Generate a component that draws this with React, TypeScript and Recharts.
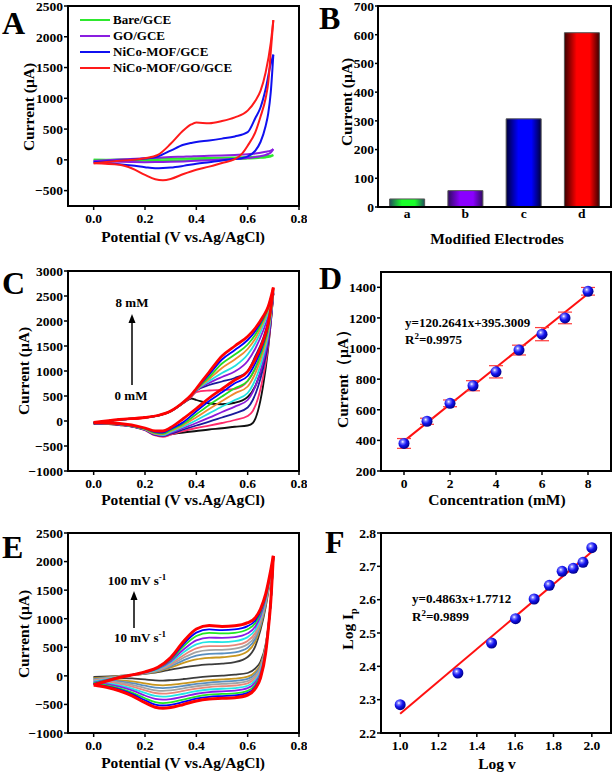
import React from 'react';
import {
  LineChart, Line, XAxis, YAxis, BarChart, Bar, Cell,
  ComposedChart, Scatter, ErrorBar,
} from 'recharts';

const SERIF = '"Liberation Serif", "Times New Roman", serif';
const TICK = { fill: '#000', fontSize: 13.5, fontWeight: 700, fontFamily: SERIF };
const TICK_LINE = { stroke: '#000', strokeWidth: 1.5 };

// ---------- A: CVs of the four electrodes ----------
const potFwdA = [0, 0.1, 0.2, 0.25, 0.3, 0.35, 0.38, 0.4, 0.45, 0.5, 0.55, 0.6, 0.63, 0.65, 0.67, 0.69, 0.7];
const potRevA = [0.7, 0.69, 0.68, 0.67, 0.65, 0.63, 0.6, 0.58, 0.55, 0.5, 0.45, 0.4, 0.35, 0.3, 0.27, 0.24, 0.2, 0.15, 0.1, 0];
const bareFwd = [0, 6, 12, 15, 18, 22, 24, 26, 30, 34, 38, 45, 50, 55, 60, 68, 75];
const bareRev = [75, 55, 45, 40, 32, 26, 20, 16, 12, 6, 0, -4, -8, -12, -14, -15, -16, -14, -8, 0];
const goFwd = [-20, 5, 25, 35, 45, 52, 56, 60, 65, 72, 80, 90, 105, 115, 130, 150, 175];
const goRev = [175, 120, 95, 80, 60, 45, 30, 22, 15, 5, -5, -15, -25, -32, -35, -37, -38, -36, -32, -20];
const mofFwd = [-40, -10, 20, 55, 150, 245, 275, 290, 315, 345, 380, 450, 680, 850, 1150, 1560, 1710];
const mofRev = [1710, 1100, 750, 550, 290, 150, 55, 30, 12, -10, -38, -65, -98, -125, -133, -136, -120, -92, -70, -40];
const mofGoFwd = [-55, -15, 25, 80, 260, 480, 575, 605, 595, 630, 690, 800, 960, 1120, 1420, 1900, 2270];
const mofGoRev = [2270, 1750, 1250, 1000, 700, 450, 230, 110, 10, -50, -110, -160, -230, -310, -330, -315, -245, -140, -80, -55];
const legendA = ['Bare/GCE', 'GO/GCE', 'NiCo-MOF/GCE', 'NiCo-MOF/GO/GCE'];
const colorsA = ['#2ee82e', '#8a1ee0', '#1010f0', '#ff1a1a'];

// ---------- B: peak currents ----------
const electrodesB = ['a', 'b', 'c', 'd'];
const currentB = [28, 57, 307, 607];
const barEdgeB = ['#1f4d5c', '#2e0b5e', '#00003c', '#3c0000'];
const barMidB = ['#1aff2a', '#8a00ff', '#0000ff', '#ff0000'];

// ---------- C: CVs with concentration 0-8 mM ----------
const potFwdC = [0, 0.1, 0.2, 0.25, 0.3, 0.35, 0.38, 0.4, 0.45, 0.5, 0.55, 0.6, 0.63, 0.66, 0.68, 0.7];
const potRevC = [0.7, 0.69, 0.68, 0.66, 0.64, 0.62, 0.6, 0.55, 0.5, 0.45, 0.4, 0.35, 0.3, 0.27, 0.24, 0.2, 0.1, 0];
const fwdC = [
  [-50, 25, 65, 105, 190, 360, 450, 420, 350, 335, 365, 480, 700, 1150, 1700, 2540],
  [-48, 26, 66, 106, 192, 365, 480, 580, 610, 620, 640, 800, 1050, 1450, 1850, 2550],
  [-45, 27, 67, 107, 194, 368, 500, 610, 720, 790, 860, 1000, 1300, 1650, 2000, 2560],
  [-42, 27, 67, 107, 195, 370, 505, 615, 760, 880, 990, 1200, 1450, 1800, 2100, 2570],
  [-40, 28, 68, 108, 196, 372, 508, 620, 800, 960, 1100, 1330, 1560, 1900, 2180, 2580],
  [-38, 28, 68, 108, 197, 374, 511, 625, 840, 1060, 1230, 1440, 1650, 1970, 2230, 2600],
  [-36, 29, 69, 109, 198, 376, 514, 630, 880, 1150, 1330, 1530, 1730, 2020, 2260, 2620],
  [-33, 29, 69, 109, 199, 378, 517, 640, 930, 1230, 1420, 1620, 1800, 2060, 2280, 2640],
  [-30, 30, 70, 110, 200, 380, 520, 650, 980, 1300, 1500, 1690, 1860, 2090, 2290, 2670],
];
const revC = [
  [2540, 1950, 1450, 700, 200, -40, -90, -115, -145, -170, -200, -230, -265, -275, -255, -170, -80, -50],
  [2550, 1960, 1500, 880, 450, 200, 100, 20, -40, -93, -140, -200, -275, -315, -290, -185, -75, -48],
  [2560, 1990, 1570, 1050, 680, 420, 270, 153, 70, -13, -90, -170, -255, -300, -280, -180, -70, -45],
  [2570, 2030, 1650, 1180, 830, 580, 420, 287, 180, 67, -40, -140, -240, -290, -270, -175, -68, -42],
  [2580, 2080, 1730, 1290, 960, 720, 560, 420, 290, 153, 15, -110, -220, -280, -260, -170, -65, -40],
  [2600, 2130, 1800, 1390, 1080, 850, 690, 553, 400, 240, 75, -80, -200, -265, -250, -165, -62, -38],
  [2620, 2180, 1860, 1470, 1180, 960, 800, 653, 490, 320, 135, -50, -180, -250, -235, -160, -60, -36],
  [2640, 2220, 1910, 1540, 1270, 1060, 900, 753, 575, 400, 195, -20, -160, -230, -220, -150, -55, -33],
  [2670, 2250, 1950, 1600, 1350, 1150, 990, 820, 640, 460, 250, 50, -130, -200, -200, -140, -50, -30],
];
const colorsC = ['#111111', '#ff2a6a', '#1a1a9a', '#8a1ad8', '#22e0e0', '#f08a30', '#22dd22', '#0000ff', '#ff0000'];

// ---------- D: calibration ----------
const concD = [0, 1, 2, 3, 4, 5, 6, 7, 8];
const currentD = [380, 525, 642, 757, 848, 990, 1094, 1200, 1374];
const errD = [32, 20, 22, 33, 40, 32, 43, 38, 25];
const fitXD = [0, 8];
const fitYD = [395.3, 1357.4];

// ---------- E: CVs at 10-100 mV/s ----------
const potFwdE = [0, 0.1, 0.2, 0.25, 0.3, 0.35, 0.4, 0.45, 0.5, 0.55, 0.6, 0.63, 0.65, 0.67, 0.69, 0.7];
const potRevE = [0.7, 0.69, 0.68, 0.67, 0.65, 0.63, 0.6, 0.55, 0.5, 0.45, 0.4, 0.35, 0.3, 0.27, 0.24, 0.2, 0.15, 0.1, 0.05, 0];
const fwdE = [
  [-20, 0, 35, 65, 110, 150, 180, 200, 215, 240, 330, 520, 800, 1200, 1750, 2050],
  [-44, -5, 41, 79, 146, 227, 289, 316, 326, 348, 432, 605, 863, 1239, 1767, 2058],
  [-58, -8, 44, 88, 167, 272, 353, 384, 391, 411, 492, 655, 900, 1262, 1777, 2064],
  [-72, -11, 48, 96, 188, 317, 417, 452, 456, 475, 552, 705, 937, 1285, 1787, 2069],
  [-86, -14, 51, 105, 209, 362, 481, 520, 521, 538, 612, 755, 974, 1308, 1797, 2074],
  [-101, -17, 55, 114, 232, 411, 551, 594, 592, 608, 678, 810, 1015, 1333, 1808, 2079],
  [-117, -21, 59, 124, 255, 461, 622, 669, 664, 678, 744, 865, 1055, 1359, 1819, 2085],
  [-133, -24, 63, 134, 280, 515, 698, 751, 742, 754, 816, 925, 1100, 1386, 1831, 2091],
  [-146, -27, 67, 142, 299, 555, 756, 812, 800, 812, 870, 970, 1133, 1407, 1840, 2095],
  [-160, -30, 70, 150, 320, 600, 820, 880, 865, 875, 930, 1020, 1170, 1430, 1850, 2100],
];
const revE = [
  [2050, 1300, 850, 550, 250, 130, 50, 20, 5, -10, -30, -55, -75, -82, -78, -62, -45, -35, -25, -20],
  [2058, 1300, 842, 525, 201, 71, -15, -48, -63, -77, -100, -131, -157, -165, -158, -131, -97, -73, -55, -44],
  [2064, 1302, 837, 510, 172, 36, -54, -89, -102, -117, -141, -175, -205, -213, -205, -172, -127, -96, -72, -58],
  [2069, 1302, 832, 495, 143, 0, -92, -129, -142, -156, -182, -220, -253, -262, -253, -213, -158, -118, -90, -72],
  [2074, 1303, 827, 480, 114, -35, -131, -169, -182, -196, -223, -264, -301, -310, -300, -254, -188, -141, -107, -86],
  [2079, 1303, 821, 463, 82, -73, -173, -213, -226, -239, -268, -313, -353, -364, -352, -299, -222, -166, -127, -101],
  [2085, 1304, 816, 447, 50, -112, -216, -257, -270, -283, -313, -362, -406, -417, -404, -344, -255, -190, -146, -117],
  [2091, 1304, 810, 429, 15, -154, -262, -306, -317, -330, -362, -415, -464, -476, -460, -392, -292, -217, -167, -133],
  [2095, 1305, 805, 415, -11, -185, -297, -342, -353, -366, -399, -456, -507, -519, -503, -427, -320, -238, -183, -146],
  [2100, 1305, 800, 400, -40, -220, -335, -382, -393, -405, -440, -500, -555, -568, -550, -470, -350, -260, -200, -160],
];
const colorsE = ['#3c3c3c', '#c8961e', '#5a8fc0', '#a3a3a3', '#e8877a', '#22e6e6', '#8c1ae6', '#22e622', '#0000ff', '#ff0000'];

// ---------- F: log Ip vs log v ----------
const logVF = [1.0, 1.301, 1.477, 1.602, 1.699, 1.778, 1.845, 1.903, 1.954, 2.0];
const logIpF = [2.285, 2.38, 2.47, 2.543, 2.602, 2.643, 2.685, 2.694, 2.712, 2.756];
const fitXF = [1.0, 2.0];
const fitYF = [2.2575, 2.7438];

const potTicks = [0, 0.2, 0.4, 0.6, 0.8];

const pts = (xs: number[], ys: number[]) => xs.map((x, i) => ({ x, y: ys[i] }));
const minus = (v: number) => String(v).replace('-', '\u2212');
const fix1 = (v: number) => v.toFixed(1);

function cvLines(fwd: number[][], rev: number[][], colors: string[], potF: number[], potR: number[], widths: number[]) {
  return fwd.flatMap((f, i) => [
    <Line key={`f${i}`} data={pts(potF, f)} dataKey="y" type="monotone" stroke={colors[i]}
      strokeWidth={widths[i]} dot={false} activeDot={false} isAnimationActive={false} />,
    <Line key={`r${i}`} data={pts(potR, rev[i])} dataKey="y" type="monotone" stroke={colors[i]}
      strokeWidth={widths[i]} dot={false} activeDot={false} isAnimationActive={false} />,
  ]);
}

const Ball = (id: string) => (p: any) => <circle cx={p.cx} cy={p.cy} r={5.5} fill={`url(#${id})`} />;

const BallDef = ({ id }: { id: string }) => (
  <defs>
    <radialGradient id={id} cx="0.38" cy="0.35" r="0.65">
      <stop offset="0" stopColor="#ffffff" />
      <stop offset="0.22" stopColor="#7a7aff" />
      <stop offset="0.55" stopColor="#1414f0" />
      <stop offset="1" stopColor="#00008a" />
    </radialGradient>
  </defs>
);

const Frame = ({ l, t, w, h }: { l: number; t: number; w: number; h: number }) => (
  <div style={{ position: 'absolute', left: l - 1, top: t - 1, width: w + 2, height: h + 2,
    border: '2px solid #000', boxSizing: 'border-box', pointerEvents: 'none' }} />
);

const Title = ({ cx, cy, vertical, children }: any) => (
  <div style={{ position: 'absolute', left: cx, top: cy, whiteSpace: 'nowrap', lineHeight: 1,
    transform: `translate(-50%,-50%)${vertical ? ' rotate(-90deg)' : ''}`,
    fontSize: 15.5, fontWeight: 700, fontFamily: SERIF }}>{children}</div>
);

const Note = ({ left, top, size = 13, center, children }: any) => (
  <div style={{ position: 'absolute', left, top, whiteSpace: 'nowrap', lineHeight: 1,
    transform: center ? 'translateX(-50%)' : undefined,
    fontSize: size, fontWeight: 700, fontFamily: SERIF }}>{children}</div>
);

const Sup = ({ children }: any) => (
  <span style={{ fontSize: 9, position: 'relative', top: -5 }}>{children}</span>
);

const Letter = ({ left, top, children }: any) => (
  <div style={{ position: 'absolute', left, top, fontSize: 32, lineHeight: 1, fontWeight: 700, fontFamily: SERIF }}>{children}</div>
);

const potAxis = (
  <XAxis type="number" dataKey="x" domain={[-0.1, 0.8]} ticks={potTicks} tickFormatter={fix1}
    allowDataOverflow axisLine={false} tickLine={TICK_LINE} tickSize={4} tickMargin={3}
    tick={TICK} height={30} interval={0} />
);

export default function App() {
  const widthsA = [2, 2, 2, 2];
  const widthsC = [1.8, 1.8, 1.8, 1.8, 1.8, 1.8, 1.8, 1.8, 2.8];
  const widthsE = [1.8, 1.8, 1.8, 1.8, 1.8, 1.8, 1.8, 1.8, 1.8, 3];
  const barsB = electrodesB.map((e, i) => ({ name: e, current: currentB[i] }));

  return (
    <div style={{ position: 'absolute', left: 0, top: 0, width: 614, height: 775, background: '#fff',
      overflow: 'hidden', fontFamily: SERIF }}>
      {/* A */}
      <div style={{ position: 'absolute', left: 0, top: 0 }}>
        <LineChart width={307} height={250} margin={{ top: 6, right: 8, bottom: 14, left: 0 }}>
          {potAxis}
          <YAxis type="number" domain={[-750, 2500]} ticks={[-500, 0, 500, 1000, 1500, 2000, 2500]}
            tickFormatter={minus} allowDataOverflow axisLine={false} tickLine={TICK_LINE}
            tickSize={4} tickMargin={1} tick={TICK} width={68} interval={0} />
          {cvLines([bareFwd, goFwd, mofFwd, mofGoFwd], [bareRev, goRev, mofRev, mofGoRev],
            colorsA, potFwdA, potRevA, widthsA)}
        </LineChart>
      </div>

      {/* B */}
      <div style={{ position: 'absolute', left: 307, top: 0 }}>
        <BarChart width={307} height={250} data={barsB} margin={{ top: 6, right: 3, bottom: 13, left: 0 }}
          barCategoryGap="20%">
          <defs>
            {barEdgeB.map((edge, i) => (
              <linearGradient key={i} id={`barB${i}`} x1="0" y1="0" x2="1" y2="0">
                <stop offset="0" stopColor={edge} />
                <stop offset="0.35" stopColor={barMidB[i]} />
                <stop offset="0.72" stopColor={barMidB[i]} />
                <stop offset="1" stopColor={edge} />
              </linearGradient>
            ))}
          </defs>
          <XAxis dataKey="name" axisLine={false} tickLine={false} tickSize={0} tickMargin={1}
            tick={TICK} height={30} interval={0} />
          <YAxis type="number" domain={[0, 700]} ticks={[0, 100, 200, 300, 400, 500, 600, 700]}
            axisLine={false} tickLine={TICK_LINE} tickSize={3} tickMargin={1} tick={TICK}
            width={71} interval={0} />
          <Bar dataKey="current" stroke="#555" strokeWidth={1} isAnimationActive={false}>
            {barsB.map((_, i) => <Cell key={i} fill={`url(#barB${i})`} />)}
          </Bar>
        </BarChart>
      </div>

      {/* C */}
      <div style={{ position: 'absolute', left: 0, top: 250 }}>
        <LineChart width={307} height={260} margin={{ top: 21, right: 8, bottom: 9, left: 0 }}>
          {potAxis}
          <YAxis type="number" domain={[-1000, 3000]}
            ticks={[-1000, -500, 0, 500, 1000, 1500, 2000, 2500, 3000]} tickFormatter={minus}
            allowDataOverflow axisLine={false} tickLine={TICK_LINE} tickSize={4} tickMargin={1}
            tick={TICK} width={68} interval={0} />
          {cvLines(fwdC, revC, colorsC, potFwdC, potRevC, widthsC)}
        </LineChart>
      </div>

      {/* D */}
      <div style={{ position: 'absolute', left: 307, top: 250 }}>
        <ComposedChart width={307} height={260} margin={{ top: 22, right: 3, bottom: 9, left: 0 }}>
          <BallDef id="ballD" />
          <XAxis type="number" dataKey="x" domain={[-1, 9]} ticks={[0, 2, 4, 6, 8]} allowDataOverflow
            axisLine={false} tickLine={TICK_LINE} tickSize={4} tickMargin={3} tick={TICK}
            height={30} interval={0} />
          <YAxis type="number" dataKey="y" domain={[200, 1500]}
            ticks={[200, 400, 600, 800, 1000, 1200, 1400]} allowDataOverflow axisLine={false}
            tickLine={TICK_LINE} tickSize={4} tickMargin={1} tick={TICK} width={74} interval={0} />
          <Line data={pts(fitXD, fitYD)} dataKey="y" type="linear" stroke="#ff1010" strokeWidth={2}
            dot={false} activeDot={false} isAnimationActive={false} />
          <Scatter data={concD.map((x, i) => ({ x, y: currentD[i], err: errD[i] }))} dataKey="y"
            shape={Ball('ballD')} isAnimationActive={false}>
            <ErrorBar dataKey="err" direction="y" width={7} stroke="#ff3b3b" strokeWidth={1.2} />
          </Scatter>
        </ComposedChart>
      </div>

      {/* E */}
      <div style={{ position: 'absolute', left: 0, top: 510 }}>
        <LineChart width={307} height={265} margin={{ top: 23, right: 8, bottom: 12, left: 0 }}>
          {potAxis}
          <YAxis type="number" domain={[-1000, 2500]}
            ticks={[-1000, -500, 0, 500, 1000, 1500, 2000, 2500]} tickFormatter={minus}
            allowDataOverflow axisLine={false} tickLine={TICK_LINE} tickSize={4} tickMargin={1}
            tick={TICK} width={68} interval={0} />
          {cvLines(fwdE, revE, colorsE, potFwdE, potRevE, widthsE)}
        </LineChart>
      </div>

      {/* F */}
      <div style={{ position: 'absolute', left: 307, top: 510 }}>
        <ComposedChart width={307} height={265} margin={{ top: 23, right: 3, bottom: 12, left: 0 }}>
          <BallDef id="ballF" />
          <XAxis type="number" dataKey="x" domain={[0.9, 2.1]} ticks={[1.0, 1.2, 1.4, 1.6, 1.8, 2.0]}
            tickFormatter={fix1} allowDataOverflow axisLine={false} tickLine={TICK_LINE} tickSize={4}
            tickMargin={3} tick={TICK} height={30} interval={0} />
          <YAxis type="number" dataKey="y" domain={[2.2, 2.8]} ticks={[2.2, 2.3, 2.4, 2.5, 2.6, 2.7, 2.8]}
            tickFormatter={fix1} allowDataOverflow axisLine={false} tickLine={TICK_LINE} tickSize={4}
            tickMargin={1} tick={TICK} width={74} interval={0} />
          <Line data={pts(fitXF, fitYF)} dataKey="y" type="linear" stroke="#ff1010" strokeWidth={2}
            dot={false} activeDot={false} isAnimationActive={false} />
          <Scatter data={pts(logVF, logIpF)} dataKey="y" shape={Ball('ballF')} isAnimationActive={false} />
        </ComposedChart>
      </div>

      {/* frames */}
      <Frame l={68} t={6} w={231} h={200} />
      <Frame l={378} t={6} w={233} h={201} />
      <Frame l={68} t={271} w={231} h={200} />
      <Frame l={381} t={272} w={230} h={199} />
      <Frame l={68} t={533} w={231} h={200} />
      <Frame l={381} t={533} w={230} h={200} />

      {/* legend lines and arrows */}
      <svg width={614} height={775} style={{ position: 'absolute', left: 0, top: 0, pointerEvents: 'none' }}>
        {colorsA.map((c, i) => (
          <line key={i} x1={80} x2={110} y1={20 + i * 16} y2={20 + i * 16} stroke={c} strokeWidth={2} />
        ))}
        <line x1={132} y1={385} x2={132} y2={322} stroke="#000" strokeWidth={1.5} />
        <polygon points="132,314 128.5,323 135.5,323" fill="#000" />
        <line x1={134} y1={628} x2={134} y2={598} stroke="#000" strokeWidth={1.5} />
        <polygon points="134,591 130.5,600 137.5,600" fill="#000" />
      </svg>

      {legendA.map((t, i) => (
        <Note key={t} left={113} top={13.4 + i * 16}>{t}</Note>
      ))}

      <Note left={132} top={296} center>8 mM</Note>
      <Note left={131} top={389} center>0 mM</Note>
      <Note left={137} top={574} center>100 mV s<Sup>-1</Sup></Note>
      <Note left={140} top={631} center>10 mV s<Sup>-1</Sup></Note>

      <Note left={405} top={316}>y=120.2641x+395.3009</Note>
      <Note left={405} top={333}>R<Sup>2</Sup>=0.9975</Note>
      <Note left={412} top={592}>y=0.4863x+1.7712</Note>
      <Note left={412} top={610}>R<Sup>2</Sup>=0.9899</Note>

      <Title cx={183} cy={237}>Potential (V vs.Ag/AgCl)</Title>
      <Title cx={29} cy={107} vertical>Current (μA)</Title>
      <Title cx={497} cy={239}>Modified Electrodes</Title>
      <Title cx={347} cy={102} vertical>Current (μA)</Title>
      <Title cx={183} cy={500}>Potential (V vs.Ag/AgCl)</Title>
      <Title cx={24} cy={371} vertical>Current (μA)</Title>
      <Title cx={497} cy={500}>Concentration (mM)</Title>
      <Title cx={343} cy={375} vertical>Current（μA）</Title>
      <Title cx={183} cy={763}>Potential (V vs.Ag/AgCl)</Title>
      <Title cx={24} cy={634} vertical>Current (μA)</Title>
      <Title cx={497} cy={764}>Log v</Title>
      <Title cx={348} cy={629} vertical>Log I<span style={{ fontSize: 10, position: 'relative', top: 4 }}>p</span></Title>

      <Letter left={2} top={7}>A</Letter>
      <Letter left={319} top={2}>B</Letter>
      <Letter left={2} top={267}>C</Letter>
      <Letter left={319} top={262}>D</Letter>
      <Letter left={2} top={531}>E</Letter>
      <Letter left={325} top={526}>F</Letter>
    </div>
  );
}
